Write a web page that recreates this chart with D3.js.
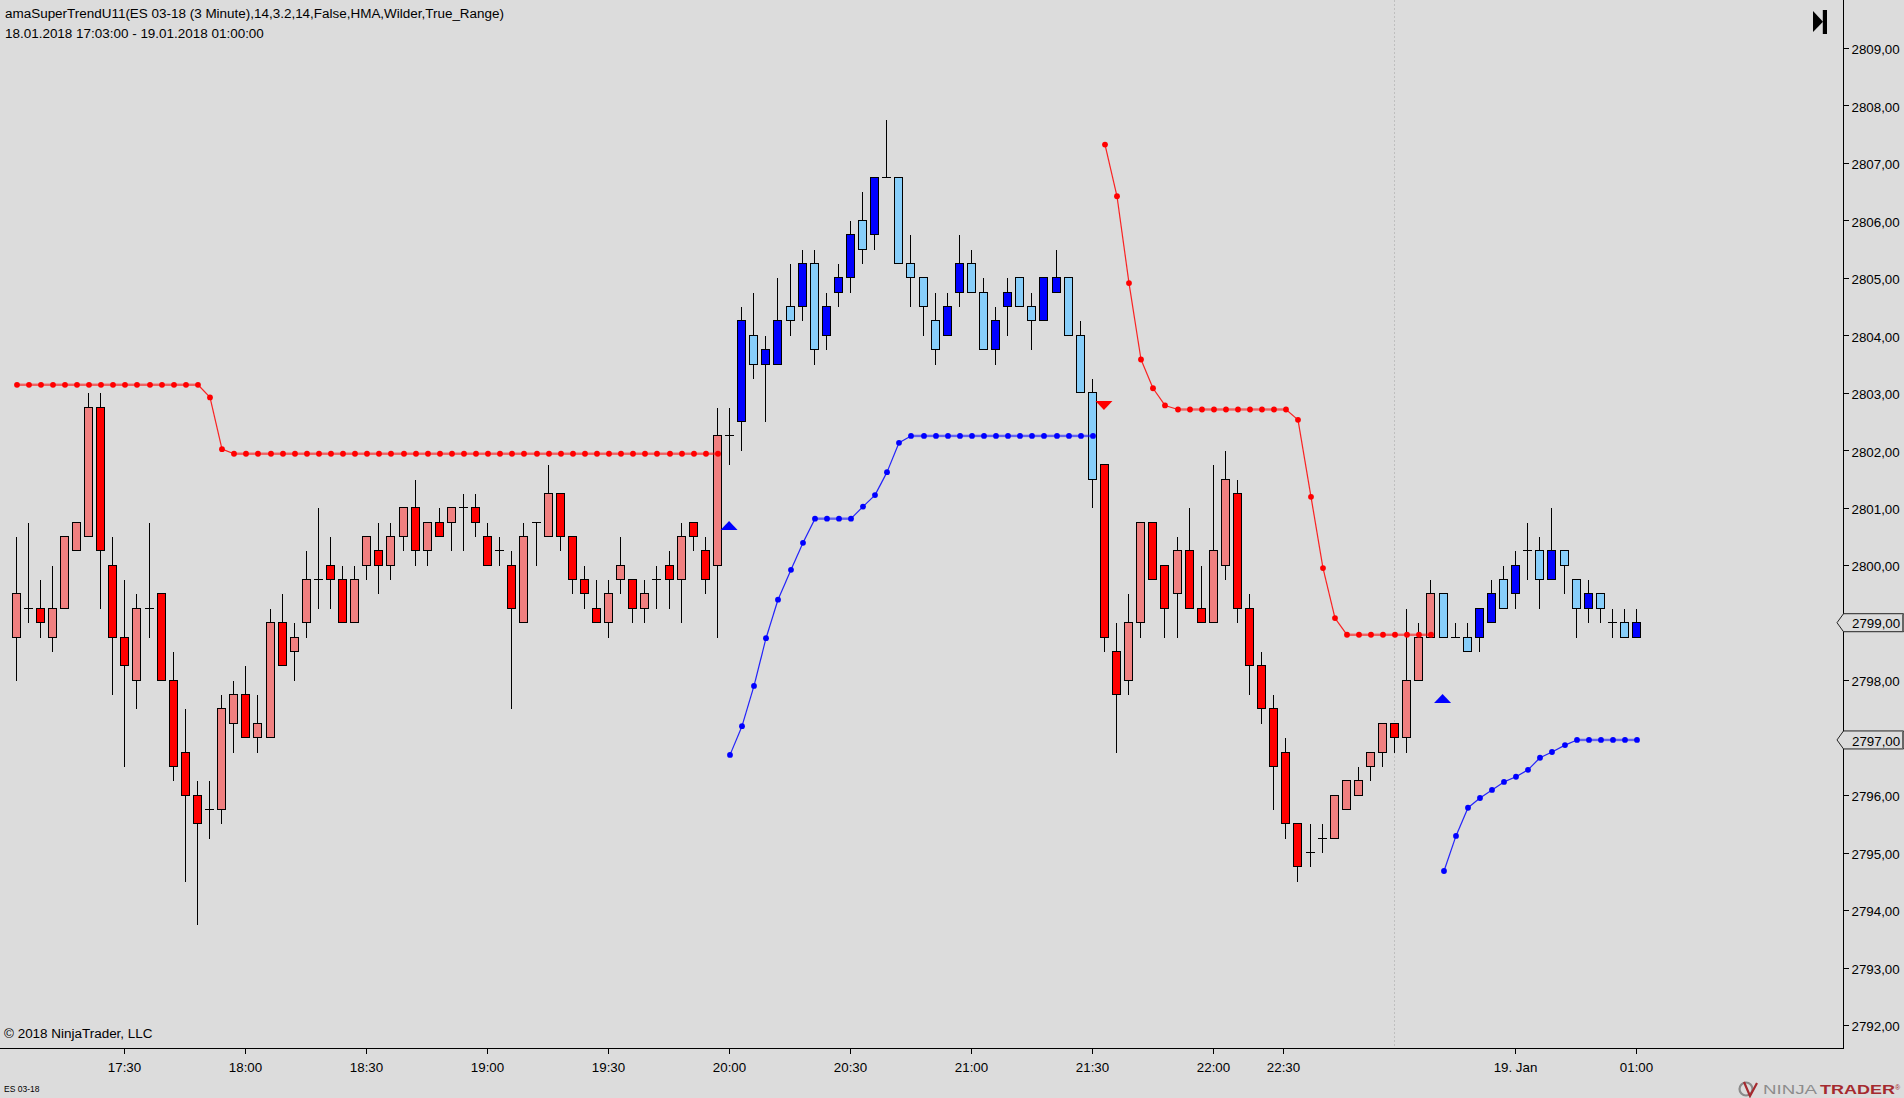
<!DOCTYPE html>
<html>
<head>
<meta charset="utf-8">
<script src="https://cdn.jsdelivr.net/npm/d3@7"></script>
<style>
html,body{margin:0;padding:0;background:#dcdcdc;overflow:hidden}
svg{display:block}
text{font-family:"Liberation Sans",Arial,sans-serif;fill:#000}
</style>
</head>
<body>
<script>
// ---- data ----
const barOpen = [2798.75,2799.25,2799.25,2798.75,2799.25,2800.25,2800.5,2802.75,2800,2798.75,2798,2799.25,2799.5,2798,2796.75,2796,2795.75,2795.75,2797.25,2797.75,2797,2797,2799,2798.5,2799,2799.75,2800,2799.75,2799,2800,2800.25,2800,2800.5,2801,2800.25,2800.75,2800.75,2801,2801,2800.5,2800.25,2800,2799,2800.75,2800.5,2801.25,2800.5,2799.75,2799.25,2799,2799.75,2799.75,2799.25,2799.75,2800,2799.75,2800.75,2800.25,2800,2802.25,2802.5,2804,2803.5,2803.5,2804.5,2804.5,2805.25,2804,2804.75,2805,2806,2805.75,2806.75,2806.75,2805.25,2805,2804.25,2804,2804.75,2805.25,2804.75,2803.75,2804.5,2805,2804.5,2804.25,2804.75,2805,2804,2803,2801.75,2798.5,2798,2799,2800.75,2800,2799.5,2800.25,2799.25,2799,2800,2801.25,2799.25,2798.25,2797.5,2796.75,2795.5,2795,2795.25,2795.25,2795.75,2796,2796.5,2796.75,2797.25,2797,2798,2798.75,2799.5,2798.75,2798.75,2798.75,2799,2799.75,2799.5,2800.25,2800.25,2799.75,2800.25,2799.75,2799.25,2799.5,2799,2799,2798.75];
const barHigh = [2800.5,2800.75,2799.75,2800,2800.5,2800.75,2803,2803,2800.5,2799.75,2799.5,2800.75,2799.5,2798.5,2797.5,2796.25,2796.25,2797.75,2798,2798.25,2797.75,2799.25,2799.5,2799,2800.25,2801,2800.5,2800,2800,2800.5,2800.75,2800.75,2801,2801.5,2800.75,2801,2801,2801.25,2801.25,2800.75,2800.5,2800.25,2800.75,2800.75,2801.75,2801.25,2800.5,2800,2799.75,2799.75,2800.5,2799.75,2799.75,2800,2800.25,2800.75,2800.75,2800.5,2802.75,2802.75,2804.5,2804.75,2804,2805,2805.25,2805.5,2805.5,2804.75,2805.25,2806,2806.5,2806.75,2807.75,2806.75,2805.75,2805,2804.75,2804.75,2805.75,2805.5,2805,2804.5,2805,2805,2804.75,2805,2805.5,2805,2804.25,2803.25,2801.75,2799,2799.5,2800.75,2800.75,2800,2800.5,2801,2800,2801.75,2802,2801.5,2799.5,2798.5,2797.75,2797,2795.5,2795.5,2795.5,2796,2796.25,2796.5,2796.75,2797.25,2797.25,2799.25,2799,2799.75,2799.5,2799,2799,2799.25,2799.75,2800,2800.25,2800.75,2800.5,2801,2800.25,2799.75,2799.75,2799.5,2799.25,2799.25,2799.25];
const barLow = [2798,2799,2798.75,2798.5,2799.25,2800.25,2800.5,2799.25,2797.75,2796.5,2797.5,2798.75,2798,2796.25,2794.5,2793.75,2795.25,2795.5,2796.75,2797,2796.75,2797,2798.25,2798,2798.75,2799.25,2799.25,2799,2799,2799.75,2799.5,2799.75,2800.25,2800,2800,2800.5,2800.25,2800.25,2800.5,2800,2800,2797.5,2799,2800,2800.5,2800.25,2799.5,2799.25,2799,2798.75,2799.5,2799,2799,2799.25,2799.25,2799,2800.25,2799.5,2798.75,2801.75,2802,2803.25,2802.5,2803.5,2804,2804.25,2803.5,2803.75,2804.5,2804.75,2805.25,2805.5,2806.75,2805.25,2804.5,2804,2803.5,2804,2804.5,2804.75,2803.75,2803.5,2804,2804.5,2803.75,2804.25,2804.75,2804,2803,2801,2798.5,2796.75,2797.75,2798.75,2799.75,2798.75,2798.75,2799.25,2799,2799,2799.75,2799,2797.75,2797.25,2795.75,2795.25,2794.5,2794.75,2795,2795.25,2795.75,2796,2796.25,2796.5,2796.75,2796.75,2798,2798.75,2798.75,2798.75,2798.5,2798.5,2799,2799.25,2799.25,2799.75,2799.25,2799.75,2799.5,2798.75,2799,2799,2798.75,2798.75,2798.75];
const barClose = [2799.5,2799.25,2799,2799.25,2800.5,2800.75,2802.75,2800.25,2798.75,2798.25,2799.25,2799.25,2798,2796.5,2796,2795.5,2795.75,2797.5,2797.75,2797,2797.25,2799,2798.25,2798.75,2799.75,2799.75,2799.75,2799,2799.75,2800.5,2800,2800.5,2801,2800.25,2800.75,2800.5,2801,2801,2800.75,2800,2800.25,2799.25,2800.5,2800.75,2801.25,2800.5,2799.75,2799.5,2799,2799.5,2800,2799.25,2799.5,2799.75,2799.75,2800.5,2800.5,2799.75,2802.25,2802.25,2804.25,2803.5,2803.75,2804.25,2804.25,2805.25,2803.75,2804.5,2805,2805.75,2805.5,2806.75,2806.75,2805.25,2805,2804.5,2803.75,2804.5,2805.25,2804.75,2803.75,2804.25,2804.75,2804.5,2804.25,2805,2805,2804,2803,2801.5,2798.75,2797.75,2799,2800.75,2799.75,2799.25,2800.25,2799.25,2799,2800.25,2801.5,2799.25,2798.25,2797.5,2796.5,2795.5,2794.75,2795,2795.25,2796,2796.25,2796.25,2796.75,2797.25,2797,2798,2798.75,2799.5,2798.75,2798.75,2798.5,2799.25,2799.5,2799.25,2800,2800.25,2799.75,2800.25,2800,2799.25,2799.5,2799.25,2799,2798.75,2799];

const upperStopA = [2803.14,2803.14,2803.14,2803.14,2803.14,2803.14,2803.14,2803.14,2803.14,2803.14,2803.14,2803.14,2803.14,2803.14,2803.14,2803.14,2802.92,2802.02,2801.94,2801.94,2801.94,2801.94,2801.94,2801.94,2801.94,2801.94,2801.94,2801.94,2801.94,2801.94,2801.94,2801.94,2801.94,2801.94,2801.94,2801.94,2801.94,2801.94,2801.94,2801.94,2801.94,2801.94,2801.94,2801.94,2801.94,2801.94,2801.94,2801.94,2801.94,2801.94,2801.94,2801.94,2801.94,2801.94,2801.94,2801.94,2801.94,2801.94,2801.94];
const lowerStopA = [2796.70,2797.20,2797.90,2798.73,2799.40,2799.92,2800.39,2800.81,2800.81,2800.81,2800.81,2801.02,2801.22,2801.62,2802.13,2802.25,2802.25,2802.25,2802.25,2802.25,2802.25,2802.25,2802.25,2802.25,2802.25,2802.25,2802.25,2802.25,2802.25,2802.25,2802.25];
const upperStopB = [2807.32,2806.42,2804.91,2803.58,2803.08,2802.78,2802.71,2802.71,2802.71,2802.71,2802.71,2802.71,2802.71,2802.71,2802.71,2802.71,2802.53,2801.19,2799.95,2799.08,2798.79,2798.79,2798.79,2798.79,2798.79,2798.79,2798.79,2798.79];
const lowerStopB = [2794.68,2795.29,2795.78,2795.95,2796.09,2796.23,2796.32,2796.44,2796.65,2796.75,2796.87,2796.96,2796.96,2796.96,2796.96,2796.96,2796.96];
const stopStarts = [0,59,90,118];
const stopKinds = ["up","dn","up","dn"];   // "up" = upper red stop, "dn" = lower blue stop

const arrowBars = [59,90,118];
const arrowApex = [2800.77,2802.70,2797.76];
const arrowKinds = ["dn","up","dn"];

const sessionBreakBar = 114;
const xTickBars = [9,19,29,39,49,59,69,79,89,99,104.8,124,134];
const xTickLabels = ["17:30","18:00","18:30","19:00","19:30","20:00","20:30","21:00","21:30","22:00","22:30","19. Jan","01:00"];
const yTickValues = [2792,2793,2794,2795,2796,2798,2800,2801,2802,2803,2804,2805,2806,2807,2808,2809];
const titleLine = "amaSuperTrendU11(ES 03-18 (3 Minute),14,3.2,14,False,HMA,Wilder,True_Range)";
const rangeLine = "18.01.2018 17:03:00 - 19.01.2018 01:00:00";
const copyright = "\u00A9 2018 NinjaTrader, LLC";
const instrument = "ES 03-18";

// ---- layout ----
const W=1904,H=1098,axisX=1843.5,axisY=1048.5;
const x=d3.scaleLinear().domain([0,134]).range([16.04,1636.57]);
const y=d3.scaleLinear().domain([2792,2809]).range([1025,48]);
const px=v=>Math.floor(v)+.5;
const svg=d3.select("body").append("svg").attr("width",W).attr("height",H);
svg.append("rect").attr("width",W).attr("height",H).attr("fill","#dcdcdc");

// session break
svg.append("line").attr("x1",px(x(sessionBreakBar))).attr("x2",px(x(sessionBreakBar)))
  .attr("y1",0).attr("y2",axisY).attr("stroke","#bfbfbf").attr("stroke-dasharray","2,2");

// bars
const bars=d3.range(barOpen.length);
const trendOf=i=>{let k=0;stopStarts.forEach((s,j)=>{if(i>=s)k=j});return stopKinds[k]};
const barG=svg.append("g").attr("shape-rendering","crispEdges");
barG.selectAll("line.wick").data(bars).join("line").attr("class","wick")
  .attr("x1",i=>px(x(i))).attr("x2",i=>px(x(i)))
  .attr("y1",i=>px(y(barHigh[i]))).attr("y2",i=>px(y(barLow[i])))
  .attr("stroke","#000");
const fillOf=i=>{
  const up=barClose[i]>barOpen[i];
  if(trendOf(i)==="up") return up?"#f08080":"#ff0000";
  return up?"#0000ff":"#87cefa";
};
barG.selectAll("rect.body").data(bars.filter(i=>barOpen[i]!==barClose[i])).join("rect").attr("class","body")
  .attr("x",i=>px(x(i))-4).attr("width",8)
  .attr("y",i=>px(y(Math.max(barOpen[i],barClose[i]))))
  .attr("height",i=>px(y(Math.min(barOpen[i],barClose[i])))-px(y(Math.max(barOpen[i],barClose[i]))))
  .attr("fill",fillOf).attr("stroke","#000");
barG.selectAll("line.doji").data(bars.filter(i=>barOpen[i]===barClose[i])).join("line").attr("class","doji")
  .attr("x1",i=>px(x(i))-4.5).attr("x2",i=>px(x(i))+4.5)
  .attr("y1",i=>px(y(barOpen[i]))).attr("y2",i=>px(y(barOpen[i])))
  .attr("stroke","#000");

// super trend stops
[upperStopA,lowerStopA,upperStopB,lowerStopB].forEach((vals,k)=>{
  const col=stopKinds[k]==="up"?"#ff0000":"#0000ff";
  const pts=vals.map((v,j)=>({i:stopStarts[k]+j,v}));
  const cx=d=>px(x(d.i))+.5;
  const line=d3.line().x(cx).y(d=>y(d.v));
  const g=svg.append("g");
  d3.pairs(pts).forEach(([a,b])=>{
    const flat=a.v===b.v;
    g.append("path").attr("d",line([a,b])).attr("fill","none").attr("stroke",col)
     .attr("stroke-width",flat?2.4:1.2).attr("stroke-opacity",flat?.55:.85);
  });
  g.selectAll("circle").data(pts).join("circle")
   .attr("cx",cx).attr("cy",d=>y(d.v)).attr("r",2.9).attr("fill",col);
});

// arrows
svg.append("g").selectAll("path").data(arrowBars.map((b,i)=>({b,p:arrowApex[i],k:arrowKinds[i]}))).join("path")
  .attr("d",d=>{
    const cx=x(d.b)-.5,ay=y(d.p),dir=d.k==="dn"?1:-1;
    return `M${cx},${ay}L${cx-8.5},${ay+dir*9}L${cx+8.5},${ay+dir*9}Z`;
  })
  .attr("fill",d=>d.k==="dn"?"#0000ff":"#ff0000");

// axes
const yAxis=d3.axisRight(y).tickValues(yTickValues).tickSize(5).tickPadding(3)
  .tickFormat(d=>d.toFixed(2).replace(".",","));
const yG=svg.append("g").attr("transform",`translate(${axisX},0)`).call(yAxis);
yG.select(".domain").remove();
yG.selectAll("text").attr("font-size","13.33px").attr("font-family",'"Liberation Sans"').attr("dy","0.43em");
yG.selectAll("line").attr("stroke","#000").attr("shape-rendering","crispEdges");

const xAxis=d3.axisBottom(x).tickValues(xTickBars).tickSize(5).tickPadding(9)
  .tickFormat(d=>xTickLabels[xTickBars.indexOf(d)]);
const xG=svg.append("g").attr("transform",`translate(0,${axisY})`).call(xAxis);
xG.select(".domain").remove();
xG.selectAll(".tick").attr("transform",d=>`translate(${px(x(d))},0)`);
xG.selectAll("text").attr("font-size","13.33px").attr("font-family",'"Liberation Sans"');
xG.selectAll("line").attr("stroke","#000").attr("shape-rendering","crispEdges");

svg.append("path").attr("d",`M0,${axisY}H${axisX}V0`).attr("fill","none").attr("stroke","#000")
  .attr("stroke-width",1).attr("shape-rendering","crispEdges");

// price flags
const lastClose=barClose[barClose.length-1], lastStop=lowerStopB[lowerStopB.length-1];
[lastClose,lastStop].forEach(v=>{
  const cy=y(v), g=svg.append("g");
  g.append("path").attr("d",`M${axisX},${cy-9}L${axisX-6.5},${cy}L${axisX},${cy+9}H1903.5V${cy-9}Z`)
   .attr("fill","#dcdcdc").attr("stroke","#222");
  g.append("rect").attr("x",1902).attr("y",cy-8.5).attr("width",2).attr("height",17).attr("fill","#666");
  g.append("text").attr("x",1852).attr("y",cy+5.6).attr("font-size","13.33px")
   .text((Math.round(v*4)/4).toFixed(2).replace(".",","));
});

// texts
const t=(s,tx,ty,fs)=>svg.append("text").attr("x",tx).attr("y",ty).attr("font-size",fs).text(s);
t(titleLine,5,18,"13.46px");
t(rangeLine,5,38,"13.46px");
t(copyright,4,1038,"13.46px");
t(instrument,4,1092,"8.5px");

// end-of-chart icon
svg.append("path").attr("d","M1813,11L1823,21.7L1813,32Z").attr("fill","#000");
svg.append("rect").attr("x",1822.8).attr("y",10).attr("width",4.2).attr("height",24).attr("fill","#000");

// logo
const logo=svg.append("g");
logo.append("circle").attr("cx",1746).attr("cy",1089).attr("r",6.5).attr("fill","none").attr("stroke","#8a8a8a").attr("stroke-width",2.2);
logo.append("path").attr("d","M1744,1082L1750,1096L1757,1083").attr("fill","none").attr("stroke","#a52a2f").attr("stroke-width",2.2);
logo.append("text").attr("x",1763).attr("y",1094).attr("font-size","12.5px").attr("textLength",54).attr("lengthAdjust","spacingAndGlyphs").style("fill","#8c8c8c").text("NINJA");
logo.append("text").attr("x",1820).attr("y",1094).attr("font-size","12.5px").attr("textLength",75).attr("lengthAdjust","spacingAndGlyphs").style("fill","#a52a2f").style("font-weight","bold").text("TRADER");
logo.append("text").attr("x",1895).attr("y",1090).attr("font-size","7px").style("fill","#a52a2f").text("\u00AE");
</script>
</body>
</html>
